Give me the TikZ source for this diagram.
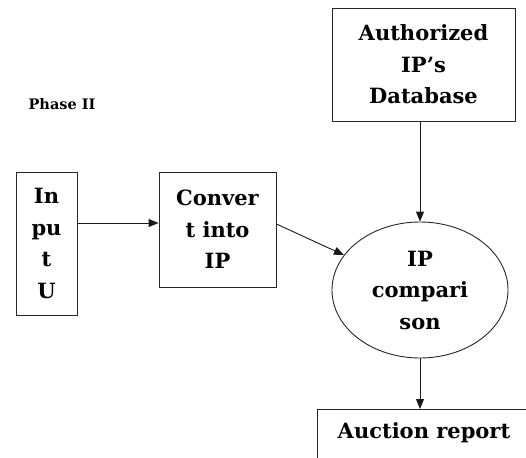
\documentclass[tikz,border=0pt]{standalone}
\usepackage{fontspec}
\setmainfont{DejaVu Serif}
\usetikzlibrary{shapes.geometric,arrows.meta}
\begin{document}
\begin{tikzpicture}[x=1pt,y=-1pt,
  box/.style={draw=black!85, line width=0.9pt, align=center, inner sep=0pt,
    font=\fontsize{21}{31.5}\selectfont\bfseries},
  arr/.style={draw=black!90, line width=0.9pt, -{Triangle[length=10pt,width=8pt]}}]
\useasboundingbox (0,0) rectangle (526,457);
\clip (0,0) rectangle (526,457);
\node[font=\fontsize{14.5}{16}\selectfont\bfseries] (ph) at (62,104) {Phase II};
\node[box, minimum width=61, minimum height=143] (inp) at (46.5,243.5) {In\\pu\\t\\U};
\node[box, minimum width=117, minimum height=115] (conv) at (217.5,229.5) {Conver\\t into\\IP};
\node[box, minimum width=183, minimum height=113] (db) at (423.5,64.5) {Authorized\\IP’s\\Database};
\node[box, ellipse, minimum width=176, minimum height=136] (ell) at (420,290) {IP\\compari\\son};
\node[box, anchor=north west, minimum width=213, text height=25, text depth=27, inner ysep=4pt] (rep) at (317,409) {Auction report};
\draw[arr] (inp.east |- 0,223) -- (conv.west |- 0,223);
\draw[arr] (conv.east |- 0,224) -- (ell);
\draw[arr] (db.south -| ell) -- (ell.north);
\draw[arr] (ell.south) -- (ell.south |- rep.north);
\end{tikzpicture}
\end{document}
